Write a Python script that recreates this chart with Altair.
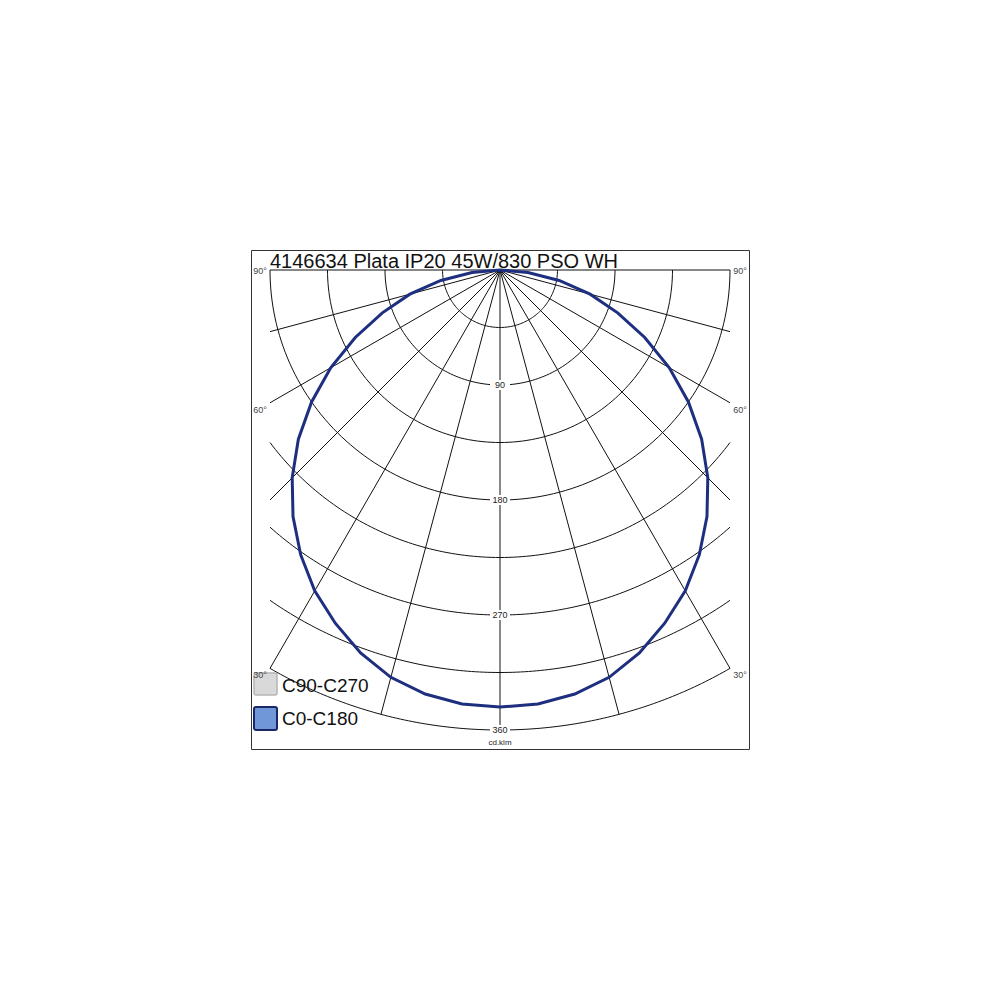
import math
import altair as alt
import pandas as pd

# ---------------- data ----------------
TITLE = "4146634 Plata IP20 45W/830 PSO WH"
UNIT = "cd.klm"
gamma = [0, 5, 10, 15, 20, 25, 30, 35, 40, 45, 50, 55, 60, 65, 70, 75, 80, 85, 90]
c0 = [342, 341, 337, 330, 319, 305, 290, 272, 252, 230, 206, 180, 153, 125, 98, 73, 47, 22, 0]
c180 = [342, 341, 337, 330, 319, 305, 290, 272, 252, 230, 206, 180, 153, 125, 98, 73, 47, 22, 0]
c90 = [342, 341, 337, 330, 319, 305, 290, 272, 252, 230, 206, 180, 153, 125, 98, 73, 47, 22, 0]
c270 = [342, 341, 337, 330, 319, 305, 290, 272, 252, 230, 206, 180, 153, 125, 98, 73, 47, 22, 0]
ring_values = [45, 90, 135, 180, 225, 270, 315, 360]
ring_labels = [90, 180, 270, 360]
radial_angles = [0, 15, 30, 45, 60, 75, 90]
angle_labels = [90, 60, 30]
legend_names = ["C90-C270", "C0-C180"]

# ---------------- layout ----------------
R_MAX = 360.0
X_LIM = 180.0
S = 460.0 / 360.0          # px per cd/klm
W, H = 498, 499
CX_PX, CY_PX = 249, 20     # centre inside the plot area
FONT = "Liberation Sans"


def px_x(px):
    return (px - CX_PX) / S


def px_y(py):
    return -(py - CY_PX) / S


xdom = [px_x(0), px_x(W)]
ydom = [px_y(H), px_y(0)]
xs = alt.Scale(domain=xdom, nice=False, zero=False)
ys = alt.Scale(domain=ydom, nice=False, zero=False)

# grid circles
rows = []
for r in ring_values:
    gmax = 90.0 if r <= X_LIM else math.degrees(math.asin(X_LIM / r))
    n = 120
    for i in range(n + 1):
        g = math.radians(-gmax + 2 * gmax * i / n)
        rows.append({"x": r * math.sin(g), "y": -r * math.cos(g), "grp": f"c{r}", "ord": i})
# radial lines
for a in radial_angles:
    for sgn in ([1] if a == 0 else [-1, 1]):
        ar = math.radians(a)
        L = R_MAX if a == 0 else min(R_MAX, X_LIM / math.sin(ar))
        rows.append({"x": 0.0, "y": 0.0, "grp": f"r{a}_{sgn}", "ord": 0})
        rows.append({"x": sgn * L * math.sin(ar), "y": -L * math.cos(ar), "grp": f"r{a}_{sgn}", "ord": 1})
grid = pd.DataFrame(rows)


def curve(left_vals, right_vals, name):
    pts = []
    k = 0
    for g, v in zip(reversed(gamma), reversed(left_vals)):
        gr = math.radians(g)
        pts.append({"x": -v * math.sin(gr), "y": -v * math.cos(gr), "s": name, "ord": k})
        k += 1
    for g, v in zip(gamma[1:], right_vals[1:]):
        gr = math.radians(g)
        pts.append({"x": v * math.sin(gr), "y": -v * math.cos(gr), "s": name, "ord": k})
        k += 1
    return pd.DataFrame(pts)


cur_c90 = curve(c270, c90, legend_names[0])
cur_c0 = curve(c180, c0, legend_names[1])

# ring labels
rl = pd.DataFrame({
    "x": [0.0] * len(ring_labels),
    "y": [-v for v in ring_labels],
    "t": [str(v) for v in ring_labels],
})
rl["x1"] = -10 / S
rl["x2"] = 10 / S
rl["y1"] = rl["y"] - 5 / S
rl["y2"] = rl["y"] + 5 / S

# angle labels: just outside the end of each radial line
al_rows = []
for a in angle_labels:
    ar = math.radians(a)
    L = min(R_MAX, X_LIM / math.sin(ar))
    ex, ey = L * math.sin(ar) * S, L * math.cos(ar) * S   # end point in px from centre
    lx = ex + 10
    ly = ey + (1 if a == 90 else 7)
    for sgn in (-1, 1):
        al_rows.append({"x": sgn * lx / S, "y": -ly / S, "t": f"{a}°"})
al = pd.DataFrame(al_rows)

# title / unit
title_df = pd.DataFrame({"x": [-X_LIM], "y": [2 / S], "t": [TITLE]})
unit_df = pd.DataFrame({"x": [0.0], "y": [-(R_MAX + 13 / S)], "t": [UNIT]})

# manual legend
leg = pd.DataFrame({
    "name": legend_names,
    "x1": [px_x(3)] * 2,
    "x2": [px_x(26)] * 2,
    "y1": [px_y(423), px_y(457)],
    "y2": [px_y(445), px_y(480)],
    "tx": [px_x(31)] * 2,
    "ty": [px_y(442), px_y(475)],
})

enc_xy = dict(x=alt.X("x:Q", scale=xs, axis=None), y=alt.Y("y:Q", scale=ys, axis=None))

grid_layer = alt.Chart(grid).mark_line(color="#111111", strokeWidth=1).encode(
    **enc_xy, detail="grp:N", order="ord:Q")

lab_bg = alt.Chart(rl).mark_rect(color="white").encode(
    x=alt.X("x1:Q", scale=xs, axis=None), x2="x2:Q",
    y=alt.Y("y1:Q", scale=ys, axis=None), y2="y2:Q")
lab_txt = alt.Chart(rl).mark_text(font=FONT, fontSize=9, fill="#222222",
                                   align="center", baseline="middle").encode(**enc_xy, text="t:N")
ang_txt = alt.Chart(al).mark_text(font=FONT, fontSize=9, fill="#444444",
                                  align="center", baseline="middle").encode(**enc_xy, text="t:N")

c90_layer = alt.Chart(cur_c90).mark_line(color="#9a9a9a", strokeWidth=1.5, strokeDash=[4, 3]).encode(
    **enc_xy, order="ord:Q")
c0_layer = alt.Chart(cur_c0).mark_line(color="#1f2f80", strokeWidth=3).encode(
    **enc_xy, order="ord:Q")

title_txt = alt.Chart(title_df).mark_text(font=FONT, fontSize=20, fill="#111111",
                                          align="left", baseline="alphabetic").encode(**enc_xy, text="t:N")
unit_txt = alt.Chart(unit_df).mark_text(font=FONT, fontSize=8, fill="#222222",
                                        align="center", baseline="middle").encode(**enc_xy, text="t:N")

leg_rect = alt.Chart(leg).mark_rect(cornerRadius=2).encode(
    x=alt.X("x1:Q", scale=xs, axis=None), x2="x2:Q",
    y=alt.Y("y1:Q", scale=ys, axis=None), y2="y2:Q",
    fill=alt.Fill("name:N", scale=alt.Scale(domain=legend_names, range=["#d9d9d9", "#7098d8"]), legend=None),
    stroke=alt.Stroke("name:N", scale=alt.Scale(domain=legend_names, range=["#b5b5b5", "#1a2666"]), legend=None),
    strokeWidth=alt.StrokeWidth("name:N", scale=alt.Scale(domain=legend_names, range=[1.5, 2]), legend=None),
    strokeDash=alt.StrokeDash("name:N", scale=alt.Scale(domain=legend_names, range=[[3, 2], [1, 0]]), legend=None),
)
leg_txt = alt.Chart(leg).mark_text(font=FONT, fontSize=19, fill="#111111",
                                   align="left", baseline="alphabetic").encode(
    x=alt.X("tx:Q", scale=xs, axis=None), y=alt.Y("ty:Q", scale=ys, axis=None), text="name:N")

chart = alt.layer(
    grid_layer, lab_bg, lab_txt, c90_layer, c0_layer, title_txt, unit_txt, leg_rect, ang_txt, leg_txt
).properties(
    width=W, height=H,
    padding={"left": 243, "top": 242, "right": 5, "bottom": 5},
).configure_view(stroke="#333333", strokeWidth=1)

chart.save("out.html", embed_options={"renderer": "svg", "actions": False})
